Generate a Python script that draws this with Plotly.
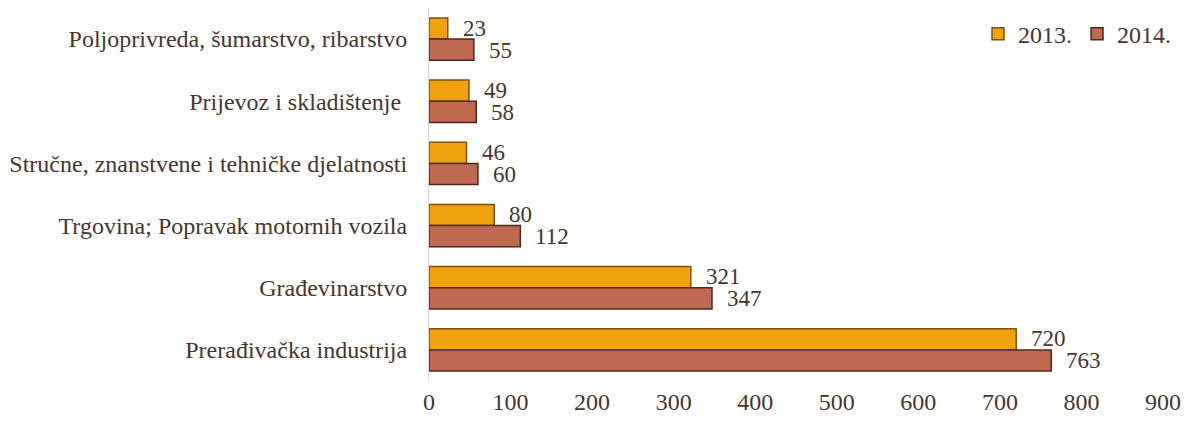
import plotly.graph_objects as go

categories = [
    "Poljoprivreda, šumarstvo, ribarstvo",
    "Prijevoz i skladištenje ",
    "Stručne, znanstvene i tehničke djelatnosti",
    "Trgovina; Popravak motornih vozila",
    "Građevinarstvo",
    "Prerađivačka industrija",
]
values_2013 = [23, 49, 46, 80, 321, 720]
values_2014 = [55, 58, 60, 112, 347, 763]
x_ticks = [0, 100, 200, 300, 400, 500, 600, 700, 800, 900]

font_family = "Liberation Serif"
text_color = "#46362F"
FS = 24

fig = go.Figure()
fig.add_trace(go.Bar(
    name="2013.", y=categories, x=values_2013, orientation="h",
    marker=dict(color="#EFA20E", line=dict(color="#7A5206", width=1.5)),
))
fig.add_trace(go.Bar(
    name="2014.", y=categories, x=values_2014, orientation="h",
    marker=dict(color="#BF6A50", line=dict(color="#4E281C", width=1.5)),
))

annotations = []
for vals, dy in ((values_2013, 11), (values_2014, -11)):
    for cat, v in zip(categories, vals):
        annotations.append(dict(
            x=v, y=cat, xref="x", yref="y", text=str(v), showarrow=False,
            xanchor="left", yanchor="middle", xshift=13, yshift=dy,
            font=dict(family=font_family, size=23, color=text_color),
        ))

fig.update_layout(
    width=1173, height=409,
    margin=dict(l=421, r=18, t=0, b=36, autoexpand=False),
    barmode="group", bargap=0.32, bargroupgap=0.0,
    plot_bgcolor="white", paper_bgcolor="white",
    font=dict(family=font_family, size=FS, color=text_color),
    annotations=annotations,
    legend=dict(orientation="h", x=0.748, y=0.93, xanchor="left", yanchor="middle",
                font=dict(family=font_family, size=FS, color=text_color),
                bgcolor="rgba(0,0,0,0)", traceorder="normal",
                itemwidth=30, tracegroupgap=0),
    xaxis=dict(range=[0, 900], tickvals=x_ticks, ticktext=[str(t) for t in x_ticks],
               showgrid=False, zeroline=False, showline=False, ticks="",
               ticklabelstandoff=4, automargin=False,
               tickfont=dict(size=FS, color=text_color)),
    yaxis=dict(categoryorder="array", categoryarray=categories, autorange="reversed",
               showgrid=False, zeroline=False, showline=True, linecolor="#D9D9D9",
               linewidth=1, ticks="", ticklabelstandoff=16, automargin=False,
               tickfont=dict(size=FS, color=text_color)),
    showlegend=True,
)

fig.write_html("out.html")
